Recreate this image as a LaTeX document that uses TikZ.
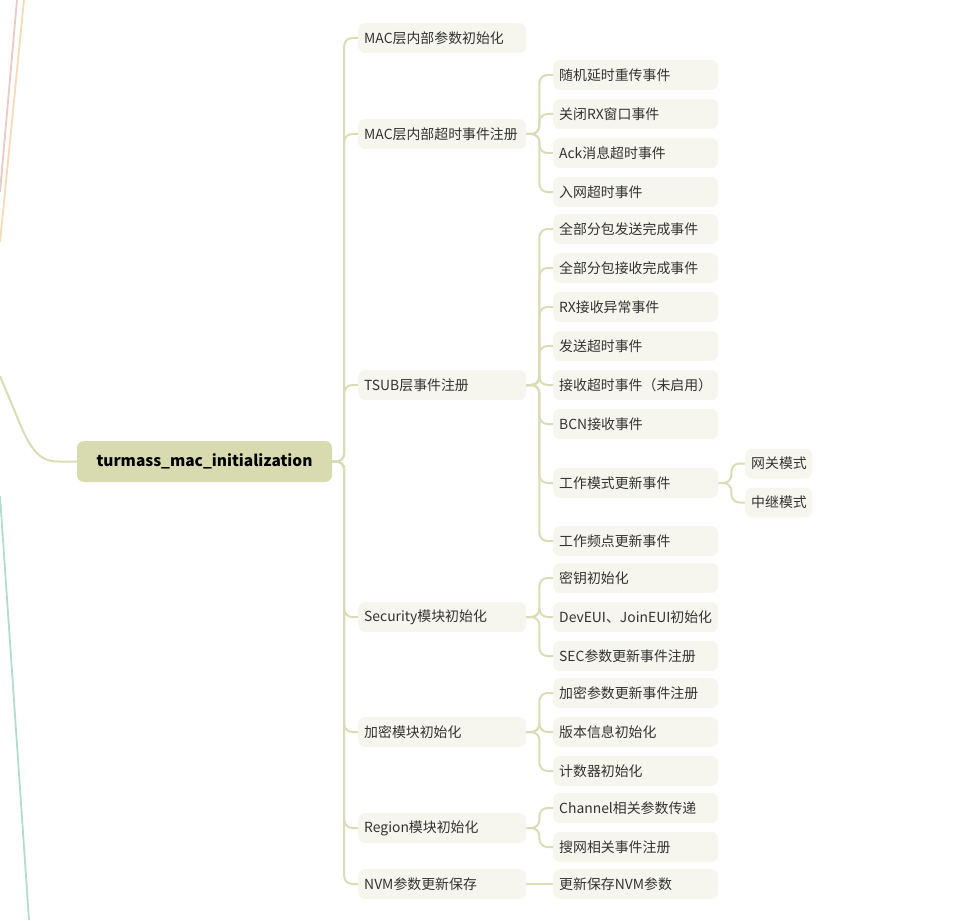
\documentclass[tikz,border=0pt]{standalone}
\usepackage{fontspec}
\setmainfont{Noto Sans CJK SC}
\definecolor{rootc}{HTML}{D8DAB0}
\definecolor{nodec}{HTML}{F6F6EE}
\definecolor{connc}{HTML}{DADCB6}
\definecolor{txt}{HTML}{333333}
\definecolor{pinkc}{HTML}{EBC9C4}
\definecolor{orangec}{HTML}{F5DAB8}
\definecolor{tealc}{HTML}{B2DCD0}
\begin{document}
\begin{tikzpicture}[x=1pt,y=-1pt,
  rootnode/.style={fill=rootc, rounded corners=7pt, minimum width=255pt, minimum height=41pt, inner sep=0pt, font=\fontsize{15.5}{18}\selectfont\bfseries, text=black},
  lone/.style={fill=nodec, rounded corners=7pt, minimum height=30pt, text width=156pt, inner xsep=6pt, inner ysep=0pt, align=left, font=\fontsize{13.9}{16}\selectfont, text=txt, anchor=west},
  ltwo/.style={lone, text width=153pt},
  lthree/.style={lone, text width=55pt},
  conn/.style={draw=connc, line width=2pt, rounded corners=8pt},
]
\useasboundingbox (0,0) rectangle (968,920);

% partial branches of the wider map
\draw[pinkc, line width=1.8pt] (17,0) -- (0,192);
\draw[orangec, line width=1.8pt] (24,0) -- (0,242);
\draw[tealc, line width=1.8pt] (0,496) -- (29,920);

\node[rootnode] (root) at (204.5,461.5) {turmass\_mac\_initialization};
\draw[connc, line width=2pt] (0,376) -- (20,424) .. controls (31,450) and (40,461.5) .. (58,461.5) -- (root.west);

% level 1
\node[lone] (a1) at (358,38) {MAC层内部参数初始化};
\node[lone] (a2) at (358,134) {MAC层内部超时事件注册};
\node[lone] (a3) at (358,385) {TSUB层事件注册};
\node[lone] (a4) at (358,617) {Security模块初始化};
\node[lone] (a5) at (358,732) {加密模块初始化};
\node[lone] (a6) at (358,828) {Region模块初始化};
\node[lone] (a7) at (358,884) {NVM参数更新保存};

% level 2
\node[ltwo] (b1) at (553,75) {随机延时重传事件};
\node[ltwo] (b2) at (553,114) {关闭RX窗口事件};
\node[ltwo] (b3) at (553,153) {Ack消息超时事件};
\node[ltwo] (b4) at (553,192) {入网超时事件};

\node[ltwo] (c1) at (553,229) {全部分包发送完成事件};
\node[ltwo] (c2) at (553,268) {全部分包接收完成事件};
\node[ltwo] (c3) at (553,307) {RX接收异常事件};
\node[ltwo] (c4) at (553,346) {发送超时事件};
\node[ltwo] (c5) at (553,385) {接收超时事件（未启用）};
\node[ltwo] (c6) at (553,424) {BCN接收事件};
\node[ltwo] (c7) at (553,483) {工作模式更新事件};
\node[ltwo] (c8) at (553,541) {工作频点更新事件};

\node[ltwo] (d1) at (553,578) {密钥初始化};
\node[ltwo] (d2) at (553,617) {DevEUI、JoinEUI初始化};
\node[ltwo] (d3) at (553,656) {SEC参数更新事件注册};

\node[ltwo] (e1) at (553,693) {加密参数更新事件注册};
\node[ltwo] (e2) at (553,732) {版本信息初始化};
\node[ltwo] (e3) at (553,771) {计数器初始化};

\node[ltwo] (f1) at (553,808) {Channel相关参数传递};
\node[ltwo] (f2) at (553,847) {搜网相关事件注册};

\node[ltwo] (g1) at (553,884) {更新保存NVM参数};

% level 3
\node[lthree] (h1) at (745,463.5) {网关模式};
\node[lthree] (h2) at (745,502.5) {中继模式};

% connectors root -> level 1
\foreach \n in {a1,a2,a3,a4,a5,a6,a7}
  \draw[conn] (root.east) -- ++(12,0) |- (\n.west);

% level 1 -> level 2
\foreach \n in {b1,b2,b3,b4}
  \draw[conn] (a2.east) -- ++(13,0) |- (\n.west);
\foreach \n in {c1,c2,c3,c4,c5,c6,c7,c8}
  \draw[conn] (a3.east) -- ++(13,0) |- (\n.west);
\foreach \n in {d1,d2,d3}
  \draw[conn] (a4.east) -- ++(13,0) |- (\n.west);
\foreach \n in {e1,e2,e3}
  \draw[conn] (a5.east) -- ++(13,0) |- (\n.west);
\foreach \n in {f1,f2}
  \draw[conn] (a6.east) -- ++(13,0) |- (\n.west);
\draw[conn] (a7.east) -- (g1.west);

% level 2 -> level 3
\foreach \n in {h1,h2}
  \draw[conn] (c7.east) -- ++(13,0) |- (\n.west);
\end{tikzpicture}
\end{document}
